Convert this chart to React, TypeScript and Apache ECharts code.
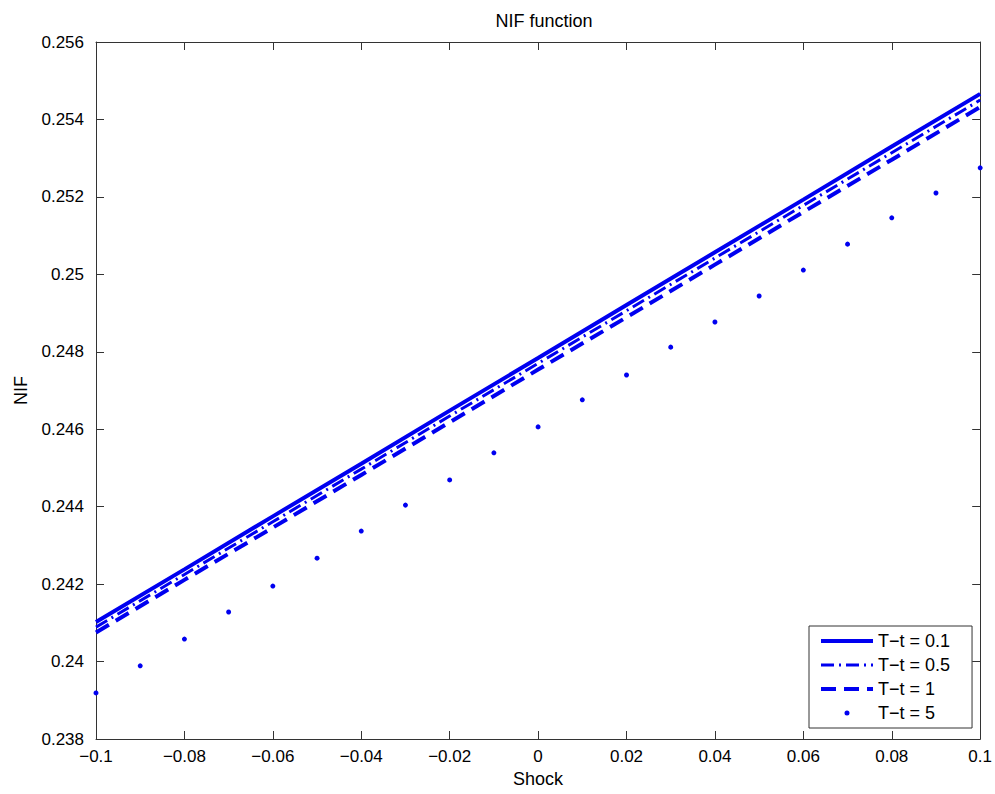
import React, { useEffect, useRef } from "react";
import * as echarts from "echarts";

const xLine = [-0.1, -0.08, -0.06, -0.04, -0.02, 0, 0.02, 0.04, 0.06, 0.08, 0.1];
const nif01 = [0.24102, 0.24238, 0.24375, 0.24511, 0.24648, 0.24784, 0.24921, 0.25057, 0.25193, 0.2533, 0.25466];
const nif05 = [0.24089, 0.24225, 0.24361, 0.24497, 0.24634, 0.2477, 0.24906, 0.25042, 0.25178, 0.25314, 0.2545];
const nif1 = [0.24075, 0.24211, 0.24346, 0.24482, 0.24618, 0.24754, 0.24889, 0.25025, 0.25161, 0.25296, 0.25432];
const xDots = [-0.1, -0.09, -0.08, -0.07, -0.06, -0.05, -0.04, -0.03, -0.02, -0.01, 0, 0.01, 0.02, 0.03, 0.04, 0.05, 0.06, 0.07, 0.08, 0.09, 0.1];
const nif5 = [0.23919, 0.23989, 0.24058, 0.24128, 0.24195, 0.24267, 0.24337, 0.24404, 0.24469, 0.24539, 0.24606, 0.24676, 0.2474, 0.24812, 0.24877, 0.24944, 0.25011, 0.25078, 0.25146, 0.2521, 0.25275];
const seriesNames = ["T\u2212t = 0.1", "T\u2212t = 0.5", "T\u2212t = 1", "T\u2212t = 5"];

const FONT = "'Liberation Sans', Arial, Helvetica, sans-serif";
const BLUE = "#0000f0";
const AX = "#333333";
const DASHDOT = [13, 5, 2, 5];
const DASHED = [15, 8];
const DOT_ICON = "path://M0,0 M14,14 M4.5,7 a2.5,2.5 0 1,0 5,0 a2.5,2.5 0 1,0 -5,0";

const fmt = (v: number) => {
  const s = parseFloat(v.toFixed(3)).toString();
  return s.replace("-", "\u2212");
};

export default function App() {
  const ref = useRef<HTMLDivElement>(null);
  useEffect(() => {
    const chart = echarts.init(ref.current!, null, { renderer: "svg" });
    const zip = (xs: number[], ys: number[]) => xs.map((x, i) => [x, ys[i]]);
    const tick = { show: true, inside: true, length: 8, lineStyle: { color: AX } };
    const line = { show: true, onZero: false, lineStyle: { color: AX, width: 1 } };
    const hidden = { opacity: 0, color: "rgba(0,0,0,0)", borderWidth: 0 };
    chart.setOption({
      animation: false,
      backgroundColor: "#ffffff",
      title: {
        text: "NIF function",
        left: 539,
        top: 7,
        textAlign: "center",
        textStyle: { fontFamily: FONT, fontSize: 18, fontWeight: "normal", color: "#000" },
      },
      grid: { left: 96, top: 42, right: 13, bottom: 55, containLabel: false },
      legend: {
        orient: "vertical",
        left: 809,
        top: 626,
        itemWidth: 52,
        itemHeight: 14,
        itemGap: 6,
        padding: [6, 22, 6, 10],
        borderColor: AX,
        borderWidth: 1,
        backgroundColor: "#ffffff",
        textStyle: { fontFamily: FONT, fontSize: 18, color: "#000" },
        data: [
          { name: seriesNames[0], itemStyle: hidden, lineStyle: { width: 4, type: "solid", color: BLUE } },
          { name: seriesNames[1], itemStyle: hidden, lineStyle: { width: 3, type: DASHDOT, color: BLUE } },
          { name: seriesNames[2], itemStyle: hidden, lineStyle: { width: 4, type: DASHED, color: BLUE } },
          { name: seriesNames[3], icon: DOT_ICON, itemStyle: { color: BLUE, opacity: 1 } },
        ],
      },
      xAxis: [
        {
          type: "value",
          min: -0.1,
          max: 0.1,
          interval: 0.02,
          name: "Shock",
          nameLocation: "middle",
          nameGap: 30,
          nameTextStyle: { fontFamily: FONT, fontSize: 18, color: "#000" },
          axisLine: line,
          axisTick: tick,
          axisLabel: { fontFamily: FONT, fontSize: 17, color: "#000", margin: 9, formatter: fmt },
          splitLine: { show: false },
        },
        {
          type: "value",
          position: "top",
          min: -0.1,
          max: 0.1,
          interval: 0.02,
          axisLine: line,
          axisTick: tick,
          axisLabel: { show: false },
          splitLine: { show: false },
        },
      ],
      yAxis: [
        {
          type: "value",
          min: 0.238,
          max: 0.256,
          interval: 0.002,
          name: "NIF",
          nameLocation: "middle",
          nameGap: 66,
          nameTextStyle: { fontFamily: FONT, fontSize: 18, color: "#000" },
          axisLine: line,
          axisTick: tick,
          axisLabel: { fontFamily: FONT, fontSize: 17, color: "#000", margin: 12, formatter: fmt },
          splitLine: { show: false },
        },
        {
          type: "value",
          position: "right",
          min: 0.238,
          max: 0.256,
          interval: 0.002,
          axisLine: line,
          axisTick: tick,
          axisLabel: { show: false },
          splitLine: { show: false },
        },
      ],
      series: [
        {
          name: seriesNames[0],
          type: "line",
          data: zip(xLine, nif01),
          symbol: "none",
          lineStyle: { color: BLUE, width: 4, type: "solid" },
          itemStyle: { color: BLUE },
        },
        {
          name: seriesNames[1],
          type: "line",
          data: zip(xLine, nif05),
          symbol: "none",
          lineStyle: { color: BLUE, width: 3, type: DASHDOT },
          itemStyle: { color: BLUE },
        },
        {
          name: seriesNames[2],
          type: "line",
          data: zip(xLine, nif1),
          symbol: "none",
          lineStyle: { color: BLUE, width: 4, type: DASHED },
          itemStyle: { color: BLUE },
        },
        {
          name: seriesNames[3],
          type: "scatter",
          data: zip(xDots, nif5),
          symbol: "circle",
          symbolSize: 5,
          itemStyle: { color: BLUE, opacity: 1 },
        },
      ],
    });
    return () => chart.dispose();
  }, []);
  return (
    <div
      ref={ref}
      style={{ position: "fixed", left: 0, top: 0, width: 995, height: 794, background: "#fff" }}
    />
  );
}
